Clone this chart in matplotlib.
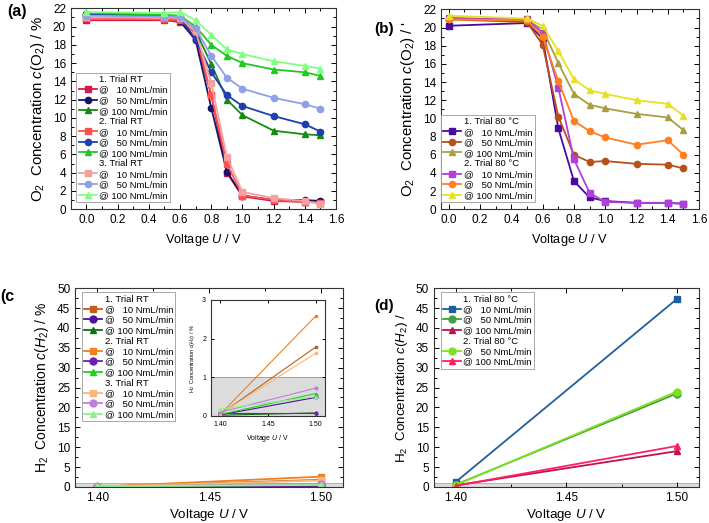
import numpy as np
import matplotlib
matplotlib.use("Agg")
import matplotlib.pyplot as plt
from matplotlib.lines import Line2D
from matplotlib.ticker import MultipleLocator

plt.rcParams['font.family'] = ['Liberation Sans', 'DejaVu Sans']
plt.rcParams['mathtext.fontset'] = 'custom'
plt.rcParams['mathtext.rm'] = 'Liberation Sans'
plt.rcParams['mathtext.it'] = 'Liberation Sans:italic'

# ---- data: panel (a), O2 at room temperature
u_a = [0.0, 0.5, 0.6, 0.7, 0.8, 0.9, 1.0, 1.2, 1.4, 1.5]
a_t1_10 = [20.7, 20.7, 20.5, 18.7, 12.5, 4.0, 1.4, 0.9, 0.8, 0.8]
a_t1_50 = [21.4, 21.2, 20.6, 18.5, 11.1, 4.1, 1.5, 1.0, 1.0, 0.9]
a_t1_100 = [21.5, 21.2, 21.0, 19.5, 15.9, 12.0, 10.3, 8.6, 8.2, 8.1]
a_t2_10 = [20.9, 20.8, 20.7, 19.2, 12.5, 5.0, 1.5, 1.0, 0.8, 0.7]
a_t2_50 = [21.3, 21.2, 21.0, 18.6, 15.0, 12.5, 11.3, 10.2, 9.3, 8.5]
a_t2_100 = [21.5, 21.3, 21.2, 20.0, 18.0, 16.8, 16.0, 15.3, 15.0, 14.6]
a_t3_10 = [21.0, 21.0, 20.9, 19.5, 13.8, 5.7, 1.9, 1.2, 0.9, 0.6]
a_t3_50 = [21.2, 21.1, 21.1, 19.8, 16.8, 14.4, 13.2, 12.2, 11.5, 11.0]
a_t3_100 = [21.6, 21.5, 21.6, 20.7, 19.1, 17.5, 17.0, 16.2, 15.7, 15.4]

# ---- data: panel (b), O2 at 80 °C
u_b = [0.0, 0.5, 0.6, 0.7, 0.8, 0.9, 1.0, 1.2, 1.4, 1.5]
b_t1_10 = [20.2, 20.5, 18.8, 8.9, 3.1, 1.3, 0.9, 0.7, 0.7, 0.6]
b_t1_50 = [20.9, 20.6, 18.1, 10.2, 6.0, 5.2, 5.3, 5.0, 4.9, 4.5]
b_t1_100 = [21.1, 20.8, 19.8, 16.1, 12.7, 11.5, 11.1, 10.5, 10.1, 8.7]
b_t2_10 = [21.0, 20.9, 19.4, 13.4, 5.5, 1.8, 0.8, 0.7, 0.7, 0.6]
b_t2_50 = [20.9, 20.8, 19.0, 14.1, 9.7, 8.6, 7.9, 7.1, 7.6, 6.0]
b_t2_100 = [21.3, 21.0, 20.2, 17.4, 14.3, 13.1, 12.7, 12.0, 11.6, 10.3]

# ---- data: panel (c), H2 at room temperature
u_c = [1.40, 1.50]
c_t1_10 = [0.05, 1.78]
c_t1_50 = [0.03, 0.48]
c_t1_100 = [0.02, 0.08]
c_t2_10 = [0.05, 2.58]
c_t2_50 = [0.08, 0.08]
c_t2_100 = [0.04, 0.58]
c_t3_10 = [0.06, 1.62]
c_t3_50 = [0.10, 0.72]
c_t3_100 = [0.18, 0.50]

# ---- data: panel (d), H2 at 80 °C
u_d = [1.40, 1.50]
d_t1_10 = [1.3, 47.3]
d_t1_50 = [0.6, 23.5]
d_t1_100 = [0.4, 9.0]
d_t2_50 = [0.5, 24.0]
d_t2_100 = [0.3, 10.3]

lab10 = "@   10 NmL/min"
lab50 = "@   50 NmL/min"
lab100 = "@ 100 NmL/min"


def style_axes(ax, fs=8.5):
    ax.tick_params(which='both', direction='in', top=True, right=True,
                   labelsize=fs, width=0.7)
    ax.tick_params(which='major', length=3.5)
    ax.tick_params(which='minor', length=2)
    for s in ax.spines.values():
        s.set_linewidth(0.8)
        s.set_color('#333333')


def header(text):
    return Line2D([], [], color='none', label=text)


def series(ax, x, y, color, marker, label, ms=4.5, lw=1.3):
    h, = ax.plot(x, y, color=color, marker=marker, ms=ms, lw=lw,
                 mec=color, label=label)
    return h


def add_legend(ax, handles, loc, anchor):
    leg = ax.legend(handles=handles, loc=loc, bbox_to_anchor=anchor,
                    fontsize=6.8, labelspacing=0.16, handlelength=1.9,
                    handletextpad=0.25, borderpad=0.25, borderaxespad=0,
                    frameon=True, fancybox=False, edgecolor='#999999',
                    framealpha=1)
    leg.get_frame().set_linewidth(0.6)
    return leg


fig = plt.figure(figsize=(7.09, 5.23), dpi=100)

# ---------------- (a)
ax = fig.add_axes([0.100, 0.600, 0.374, 0.384])
h = [header("1. Trial RT"),
     series(ax, u_a, a_t1_10, '#d8184a', 's', lab10),
     series(ax, u_a, a_t1_50, '#14146a', 'o', lab50),
     series(ax, u_a, a_t1_100, '#158a15', '^', lab100),
     header("2. Trial RT"),
     series(ax, u_a, a_t2_10, '#ff5050', 's', lab10),
     series(ax, u_a, a_t2_50, '#1f3fb0', 'o', lab50),
     series(ax, u_a, a_t2_100, '#22c822', '^', lab100),
     header("3. Trial RT"),
     series(ax, u_a, a_t3_10, '#f4a0a0', 's', lab10),
     series(ax, u_a, a_t3_50, '#8fa0e8', 'o', lab50),
     series(ax, u_a, a_t3_100, '#80ff80', '^', lab100)]
ax.set_xlim(-0.1, 1.6)
ax.set_ylim(0, 22)
ax.xaxis.set_major_locator(MultipleLocator(0.2))
ax.xaxis.set_minor_locator(MultipleLocator(0.1))
ax.yaxis.set_major_locator(MultipleLocator(2))
ax.yaxis.set_minor_locator(MultipleLocator(1))
ax.set_xlabel("Voltage $U$ / V", fontsize=9.2)
ax.set_ylabel("O$_2$  Concentration $c$(O$_2$) / %", fontsize=10.8)
style_axes(ax)
add_legend(ax, h, 'lower left', (0.02, 0.035))
fig.text(0.010, 0.992, "(a)", fontsize=11.5, fontweight='bold', va='top')

# ---------------- (b)
ax = fig.add_axes([0.622, 0.600, 0.364, 0.382])
h = [header("1. Trial 80 °C"),
     series(ax, u_b, b_t1_10, '#4a0aa0', 's', lab10),
     series(ax, u_b, b_t1_50, '#b8501a', 'o', lab50),
     series(ax, u_b, b_t1_100, '#a8a040', '^', lab100),
     header("2. Trial 80 °C"),
     series(ax, u_b, b_t2_10, '#b040d8', 's', lab10),
     series(ax, u_b, b_t2_50, '#ff8020', 'o', lab50),
     series(ax, u_b, b_t2_100, '#e8e020', '^', lab100)]
ax.set_xlim(-0.05, 1.6)
ax.set_ylim(0, 22)
ax.xaxis.set_major_locator(MultipleLocator(0.2))
ax.xaxis.set_minor_locator(MultipleLocator(0.1))
ax.yaxis.set_major_locator(MultipleLocator(2))
ax.yaxis.set_minor_locator(MultipleLocator(1))
ax.set_xlabel("Voltage $U$ / V", fontsize=9.2)
ax.set_ylabel("O$_2$  Concentration $c$(O$_2$) / '", fontsize=10.8)
style_axes(ax)
add_legend(ax, h, 'lower left', (0.0, 0.035))
fig.text(0.528, 0.958, "(b)", fontsize=11, fontweight='bold', va='top')

# ---------------- (c)
ax = fig.add_axes([0.106, 0.069, 0.378, 0.380])
ax.axhspan(0, 1, color='#dcdcdc', lw=0, zorder=0)
ax.axhline(1, color='#aaaaaa', lw=0.6, zorder=0)
h = [header("1. Trial RT"),
     series(ax, u_c, c_t1_10, '#c0601a', 's', lab10, ms=5),
     series(ax, u_c, c_t1_50, '#5010a0', 'o', lab50, ms=5),
     series(ax, u_c, c_t1_100, '#107010', '^', lab100, ms=5),
     header("2. Trial RT"),
     series(ax, u_c, c_t2_10, '#f08020', 's', lab10, ms=5),
     series(ax, u_c, c_t2_50, '#7020b0', 'o', lab50, ms=5),
     series(ax, u_c, c_t2_100, '#20d020', '^', lab100, ms=5),
     header("3. Trial RT"),
     series(ax, u_c, c_t3_10, '#f8b878', 's', lab10, ms=5),
     series(ax, u_c, c_t3_50, '#c080d8', 'o', lab50, ms=5),
     series(ax, u_c, c_t3_100, '#90f090', '^', lab100, ms=5)]
ax.set_xlim(1.39, 1.51)
ax.set_ylim(0, 50)
ax.set_xticks([1.40, 1.45, 1.50])
ax.xaxis.set_minor_locator(MultipleLocator(0.025))
ax.yaxis.set_major_locator(MultipleLocator(5))
ax.yaxis.set_minor_locator(MultipleLocator(2.5))
ax.set_xlabel("Voltage $U$ / V", fontsize=9.6, labelpad=2)
ax.set_ylabel("H$_2$  Concentration $c$($H_2$) / %", fontsize=10)
style_axes(ax)
add_legend(ax, h, 'upper left', (0.025, 0.98))
fig.text(0.0, 0.447, "(c", fontsize=11.5, fontweight='bold', va='top')

# inset of (c)
ins = fig.add_axes([0.2976, 0.2046, 0.1608, 0.2218])
ins.axhspan(0, 1, color='#dcdcdc', lw=0, zorder=0)
ins.axhline(1, color='#999999', lw=0.6, zorder=0)
for y, c, m in [(c_t1_10, '#c0601a', 's'), (c_t1_50, '#5010a0', 'o'),
                (c_t1_100, '#107010', '^'), (c_t2_10, '#f08020', 's'),
                (c_t2_50, '#7020b0', 'o'), (c_t2_100, '#20d020', '^'),
                (c_t3_10, '#f8b878', 's'), (c_t3_50, '#c080d8', 'o'),
                (c_t3_100, '#90f090', '^')]:
    ins.plot(u_c, y, color=c, marker=m, ms=2, lw=0.8)
ins.set_xlim(1.39, 1.51)
ins.set_ylim(0, 3)
ins.set_xticks([1.40, 1.45, 1.50])
ins.set_yticks([0, 1, 2, 3])
ins.set_xlabel("Voltage $U$ / V", fontsize=5)
ins.set_ylabel("H$_2$  Concentration $c$($H_2$) / %", fontsize=4)
style_axes(ins, fs=5)
ins.tick_params(which='major', length=2)

# ---------------- (d)
ax = fig.add_axes([0.612, 0.069, 0.374, 0.380])
ax.axhspan(0, 1, color='#dcdcdc', lw=0, zorder=0)
ax.axhline(1, color='#aaaaaa', lw=0.6, zorder=0)
h = [header("1. Trial 80 °C"),
     series(ax, u_d, d_t1_10, '#1f5f9f', 's', lab10, ms=5),
     series(ax, u_d, d_t1_50, '#40a040', 'o', lab50, ms=5),
     series(ax, u_d, d_t1_100, '#c01050', '^', lab100, ms=5),
     header("2. Trial 80 °C"),
     series(ax, u_d, d_t2_50, '#80e020', 'o', lab50, ms=5),
     series(ax, u_d, d_t2_100, '#ff2060', '^', lab100, ms=5)]
ax.set_xlim(1.39, 1.51)
ax.set_ylim(0, 50)
ax.set_xticks([1.40, 1.45, 1.50])
ax.xaxis.set_minor_locator(MultipleLocator(0.025))
ax.yaxis.set_major_locator(MultipleLocator(5))
ax.yaxis.set_minor_locator(MultipleLocator(2.5))
ax.set_xlabel("Voltage $U$ / V", fontsize=9.6, labelpad=2)
ax.set_ylabel("H$_2$  Concentration $c$($H_2$) /", fontsize=9.6)
style_axes(ax)
add_legend(ax, h, 'upper left', (0.025, 0.98))
fig.text(0.528, 0.428, "(d)", fontsize=11, fontweight='bold', va='top')

fig.savefig("out.png", dpi=100)
